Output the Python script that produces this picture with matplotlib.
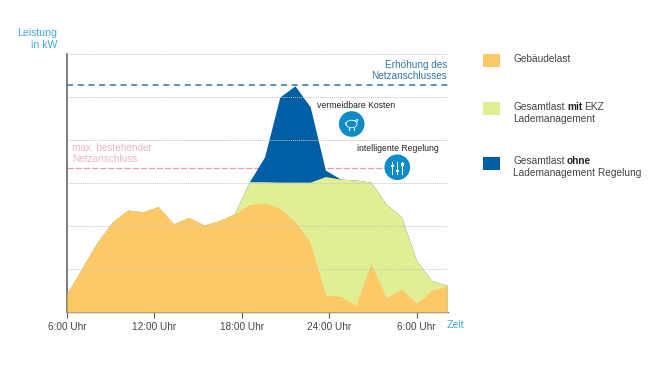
import numpy as np
import matplotlib
matplotlib.use("Agg")
import matplotlib.pyplot as plt
from matplotlib.patches import Circle, Rectangle, Ellipse

# ---- data (kW) ----
hours = [i * 6 / 5.75 for i in range(26)]
gebaeude = [4.3, 10.3, 16.3, 21.0, 23.7, 23.3, 24.5, 20.5, 22.0, 20.2, 21.2, 22.8,
            25.0, 25.4, 24.1, 21.0, 16.1, 4.0, 3.6, 1.6, 11.2, 3.3, 5.4, 2.0, 5.0, 6.2]
gesamt_mit = [4.3, 10.3, 16.3, 21.0, 23.7, 23.3, 24.5, 20.5, 22.0, 20.2, 21.2, 22.8,
              30.3, 30.3, 30.2, 30.2, 30.2, 31.5, 30.9, 30.7, 30.2, 25.1, 22.2, 11.9, 7.3, 6.2]
gesamt_ohne = [4.3, 10.3, 16.3, 21.0, 23.7, 23.3, 24.5, 20.5, 22.0, 20.2, 21.2, 22.8,
               30.3, 36.1, 50.0, 52.6, 47.7, 33.0, 30.9, 30.7, 30.2, 25.1, 22.2, 11.9, 7.3, 6.2]
x_ticks = [0, 6, 12, 18, 24]
x_labels = ["6:00 Uhr", "12:00 Uhr", "18:00 Uhr", "24:00 Uhr", "6:00 Uhr"]
y_grid = [10, 20, 30, 40, 50, 60]
limit_new = 52.8
limit_old = 33.6

C_ORANGE = "#fdc966"
C_GREEN = "#e2ee94"
C_BLUE = "#005ea5"
C_ICON = "#0e8bc9"
C_LBLUE = "#3fa9dc"
C_DASH = "#2f77ad"
C_PINK = "#e39bb8"
C_TEXT = "#444444"

plt.rcParams["font.family"] = ["Liberation Sans", "DejaVu Sans"]
W, H = 660, 371
fig = plt.figure(figsize=(6.6, 3.71), dpi=100)
fig.patch.set_facecolor("white")

L, R, T, B = 67, 447.5, 54, 312
ax = fig.add_axes([L / W, 1 - B / H, (R - L) / W, (B - T) / H])
xmax = (R - L) / 87.4 * 6
ax.set_xlim(0, xmax)
ax.set_ylim(0, 60)
for s in ["top", "right"]:
    ax.spines[s].set_visible(False)
ax.spines["left"].set_color("#666666")
ax.spines["left"].set_linewidth(1.2)
ax.spines["bottom"].set_color("#777777")
ax.spines["bottom"].set_linewidth(1.0)
ax.set_xticks(x_ticks)
ax.set_xticklabels(x_labels, fontsize=7.2, color=C_TEXT)
ax.tick_params(axis="x", length=4, width=0.8, color="#555555", pad=3)
ax.set_yticks([])

ax.fill_between(hours, 0, gesamt_ohne, color=C_BLUE, lw=0, zorder=1)
ax.fill_between(hours, 0, gesamt_mit, color=C_GREEN, lw=0, zorder=2)
ax.fill_between(hours, 0, gebaeude, color=C_ORANGE, lw=0, zorder=3)

for g in y_grid:
    ax.axhline(g, color="#c4c4c4", lw=0.7, ls=(0, (1, 1)), zorder=4, clip_on=False)

ax.axhline(limit_new, color=C_DASH, lw=1.1, ls=(0, (4, 3)), zorder=5)
ax.axhline(limit_old, xmax=(397 - L) / (R - L), color=C_PINK, lw=0.9, ls=(0, (5, 1.5)), zorder=0.5)


def px(x, y, s, **kw):
    kw.setdefault("fontsize", 7.25)
    kw.setdefault("color", C_TEXT)
    kw.setdefault("va", "center")
    return fig.text(x / W, 1 - y / H, s, **kw)


px(57, 33, "Leistung", ha="right", color=C_LBLUE, fontsize=7.6)
px(57, 45, "in kW", ha="right", color=C_LBLUE, fontsize=7.6)
px(447, 65, "Erhöhung des", ha="right", color=C_DASH, fontsize=7.2)
px(447, 76, "Netzanschlusses", ha="right", color=C_DASH, fontsize=7.2)
px(72, 148, "max. bestehender", color="#efb3cb", fontsize=7.2)
px(72, 159, "Netzanschluss", color="#efb3cb", fontsize=7.2)
px(447, 325, "Zeit", color=C_LBLUE, fontsize=7.6)
px(317, 106, "vermeidbare Kosten", fontsize=6.2, color="#222222")
px(357, 148, "intelligente Regelung", fontsize=6.2, color="#222222")

# legend
for y0, y1, c in [(54, 67, C_ORANGE), (102, 115, C_GREEN), (157, 170, C_BLUE)]:
    fig.add_artist(Rectangle((483 / W, 1 - y1 / H), 17 / W, (y1 - y0) / H, color=c, lw=0,
                             transform=fig.transFigure))
px(513, 58.5, "Gebäudelast")
px(513, 107.5, "Gesamtlast")
px(513, 119.5, "Lademanagement")
px(513, 161.5, "Gesamtlast")
px(513, 173.5, "Lademanagement Regelung")
px(567, 107.5, "mit", fontweight="bold", color="#222222")
px(584, 107.5, "EKZ")
px(567, 161.5, "ohne", fontweight="bold", color="#222222")

# icons (overlay axes in pixel coordinates)
ov = fig.add_axes([0, 0, 1, 1], zorder=10)
ov.set_xlim(0, W)
ov.set_ylim(H, 0)
ov.axis("off")
ov.patch.set_alpha(0)
ov.add_patch(Circle((351.7, 124), 12.8, color=C_ICON, lw=0))
ov.add_patch(Circle((397.3, 167.3), 12.8, color=C_ICON, lw=0))
ov.add_patch(Ellipse((351.5, 124), 11, 7.5, fill=False, ec="white", lw=0.6))
ov.plot([346.5, 345.5], [125.5, 122.5], color="white", lw=0.6)
ov.plot([354.5, 358, 356.5], [120.5, 119.5, 122.5], color="white", lw=0.6)
ov.plot([349, 349], [127.5, 129.5], color="white", lw=0.8)
ov.plot([354, 354], [127.5, 129.5], color="white", lw=0.8)
for xs, ys in [(392.3, 166), (397.3, 171), (402.3, 164.5)]:
    ov.plot([xs, xs], [161.5, 174], color="white", lw=0.7)
    ov.add_patch(Rectangle((xs - 1.5, ys - 1.2), 3, 2.4, color="white", lw=0))

fig.savefig("out.png", dpi=100, facecolor="white")
